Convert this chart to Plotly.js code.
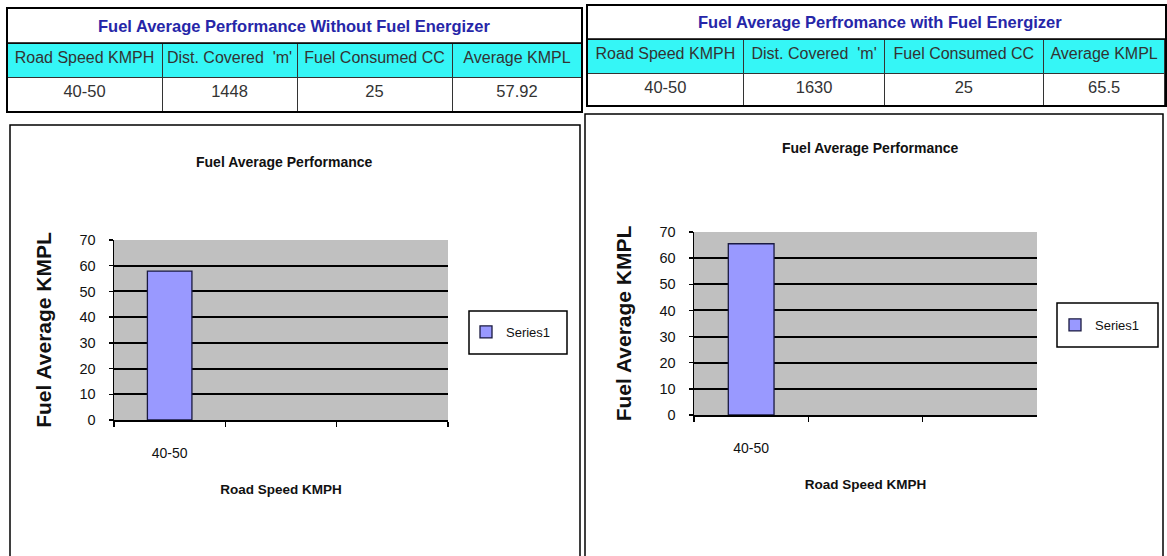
<!DOCTYPE html>
<html><head><meta charset="utf-8">
<script src="https://cdn.plot.ly/plotly-3.0.1.min.js"></script>
<style>html,body{margin:0;padding:0;background:#fff;}#chart{width:1167px;height:556px;}</style>
</head><body><div id="chart"></div>
<script>
// ---- data ----
const tableHeaders = ['Road Speed KMPH', "Dist. Covered  'm'", 'Fuel Consumed CC', 'Average KMPL'];
const tableTitleWithout = 'Fuel Average Performance Without Fuel Energizer';
const tableTitleWith = 'Fuel Average Perfromance with Fuel Energizer';
const rowWithout = ['40-50', '1448', '25', '57.92'];
const rowWith = ['40-50', '1630', '25', '65.5'];
const categories = ['40-50', ' ', '  '];
const kmplWithout = [57.92, null, null];
const kmplWith = [65.5, null, null];
const seriesName = 'Series1';
const chartTitle = 'Fuel Average Performance';
const xTitle = 'Road Speed KMPH';
const yTitle = 'Fuel Average KMPL';

// ---- layout helpers ----
const W = 1167, H = 556;
const px = x => x / W;
const py = y => 1 - y / H;
const FONT = '"Liberation Sans", Arial, sans-serif';
const keep = s => s.replace(/ /g, '\u00a0');   // keep each cell text on one line

function tableTrace(row, x0, x1, top, bottom, colw) {
  return {
    type: 'table',
    domain: {x: [px(x0), px(x1)], y: [py(bottom), py(top)]},
    columnwidth: colw,
    header: {values: tableHeaders.map(keep), height: 34, align: 'center',
      fill: {color: '#35F6F6'}, line: {color: '#333', width: 1},
      font: {family: FONT, size: 16, color: '#333'}},
    cells: {values: row.map(v => [keep(v)]), height: 34, align: 'center',
      fill: {color: '#ffffff'}, line: {color: '#333', width: 1},
      font: {family: FONT, size: 16.5, color: '#333'}}
  };
}

function barTrace(vals, xa, ya, lg) {
  return {type: 'bar', x: categories, y: vals, xaxis: xa, yaxis: ya, name: seriesName,
    legend: lg, showlegend: true,
    marker: {color: '#9999FF', line: {color: '#1a1a40', width: 1.3}}, hoverinfo: 'y'};
}

const data = [
  tableTrace(rowWithout, 7, 582, 43, 112, [155, 135, 155, 130]),
  tableTrace(rowWith, 587, 1166, 39, 106, [157, 141, 159, 122]),
  barTrace(kmplWithout, 'x', 'y', 'legend'),
  barTrace(kmplWith, 'x2', 'y2', 'legend2')
];

function xAxis(d0, d1, anchor) {
  return {domain: [px(d0), px(d1)], anchor: anchor, type: 'category',
    categoryorder: 'array', categoryarray: categories, range: [-0.5, 2.5],
    tickson: 'boundaries', ticks: 'outside', ticklen: 5, tickwidth: 1.5, tickcolor: '#000',
    showline: true, linecolor: '#000', linewidth: 1.5, showgrid: false, zeroline: false,
    tickfont: {family: FONT, size: 14, color: '#111'}, ticklabelstandoff: 20,
    title: {text: xTitle, standoff: 24, font: {family: FONT, size: 13.5, weight: 'bold', color: '#111'}}};
}
function yAxis(top, bottom, anchor) {
  return {domain: [py(bottom), py(top)], anchor: anchor, range: [0, 70], dtick: 10, tick0: 0,
    ticks: 'outside', ticklen: 4, tickwidth: 1.5, tickcolor: '#000',
    showline: true, linecolor: '#000', linewidth: 1.5,
    showgrid: true, gridcolor: '#000', gridwidth: 2, zeroline: false,
    tickfont: {family: FONT, size: 14.5, color: '#111'}, ticklabelstandoff: 10,
    title: {text: yTitle, standoff: 22, font: {family: FONT, size: 21, weight: 'bold', color: '#111'}}};
}

function box(x0, y0, x1, y1, w) {
  return {type: 'rect', xref: 'paper', yref: 'paper', x0: px(x0), x1: px(x1), y0: py(y1), y1: py(y0),
    line: {color: '#000', width: w}, fillcolor: 'rgba(0,0,0,0)', layer: 'above'};
}
function legendCfg(cx, cy) {
  return {x: px(cx), y: py(cy), xanchor: 'center', yanchor: 'middle', bgcolor: 'rgba(0,0,0,0)',
    borderwidth: 0, font: {family: FONT, size: 13, color: '#111'}, itemwidth: 30};
}
function label(text, cx, cy, size, color) {
  return {text: text, x: px(cx), y: py(cy), xref: 'paper', yref: 'paper', showarrow: false,
    xanchor: 'center', yanchor: 'middle',
    font: {family: FONT, size: size, weight: 'bold', color: color}};
}

const layout = {
  width: W, height: H, margin: {l: 0, r: 0, t: 0, b: 0},
  paper_bgcolor: '#fff', plot_bgcolor: '#C0C0C0', bargap: 0.6,
  xaxis: xAxis(114, 448, 'y'), yaxis: yAxis(240, 420, 'x'),
  xaxis2: xAxis(694, 1037, 'y2'), yaxis2: yAxis(232, 415, 'x2'),
  legend: legendCfg(511, 332), legend2: legendCfg(1100, 325),
  shapes: [
    box(7, 8, 582, 112, 2), box(7, 8, 582, 43, 1.5),
    box(587, 5, 1166, 106, 2), box(587, 5, 1166, 39, 1.5),
    box(10, 125, 580, 560, 1.5), box(585, 114, 1163, 560, 1.5),
    box(469, 311, 567, 354, 1.5), box(1057, 303, 1158, 347, 1.5)
  ],
  annotations: [
    label(tableTitleWithout, 294, 26, 16.5, '#2626A8'),
    label(tableTitleWith, 880, 22, 16.5, '#2626A8'),
    label(chartTitle, 284, 162, 14, '#111'),
    label(chartTitle, 870, 148, 14, '#111')
  ]
};

Plotly.newPlot('chart', data, layout, {displayModeBar: false, staticPlot: true});
</script></body></html>
